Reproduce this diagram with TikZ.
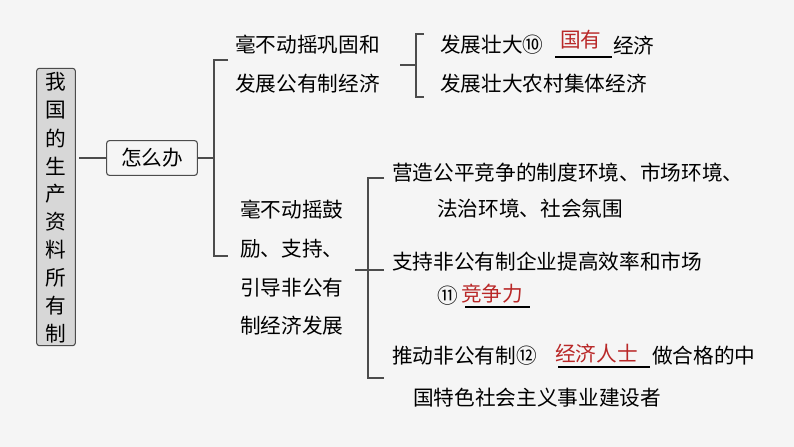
\documentclass[tikz,border=0pt]{standalone}
\usepackage{fontspec}
\setmainfont{Noto Sans CJK SC}
\definecolor{ans}{RGB}{185,40,40}
\definecolor{boxgray}{RGB}{215,215,215}
\tikzset{
    txt/.style={anchor=west, inner sep=0pt, font=\fontsize{15.5}{18}\selectfont},
    line/.style={draw=black!70, line width=0.8pt},
}
\begin{document}
\begin{tikzpicture}[x=0.75pt, y=-0.75pt]
    \fill[white!96!black] (0,0) rectangle (794,447);
    \useasboundingbox (0,0) rectangle (794,447);
    % root
    \node[draw=black!70, fill=boxgray, rounded corners=2pt, line width=0.8pt, minimum width=29pt, minimum height=208pt, inner sep=0pt] (root) at (56,207) {};
    \foreach \c [count=\i] in {我,国,的,生,产,资,料,所,有,制}
        \node[inner sep=0pt, font=\fontsize{15.5}{18}\selectfont] at (56,82+\i*28-28) {\c};
    \node[draw=black!70, rounded corners=2pt, line width=0.8pt, minimum width=68pt, minimum height=26pt, inner sep=0pt, font=\fontsize{15.5}{18}\selectfont] (how) at (152,158) {怎么办};
    \coordinate (r1) at (79,158);
    \draw[line] (r1) -- (how.west);
    \coordinate (b1) at (214,158);
    \draw[line] (how.east) -- (b1);
    \draw[line] (228,60) -- (214,60) -- (214,256) -- (228,256);
    % upper branch
    \node[txt] (pub1) at (235,45) {毫不动摇巩固和};
    \node[txt] (pub2) at (235,84) {发展公有制经济};
    \coordinate (b2) at (416,65);
    \draw[line] (400,65) -- (b2);
    \draw[line] (424,34) -- (416,34) -- (416,97) -- (424,97);
    \node[txt] (st1) at (440,45) {发展壮大⑩};
    \draw[line, draw=black] (555,57) -- (612,57);
    \node[txt, text=ans] (gy) at (560,40) {国有};
    \node[txt] at (613,45) {经济};
    \node[txt] (st2) at (440,84) {发展壮大农村集体经济};
    % lower branch
    \node[txt] (np1) at (240,210) {毫不动摇鼓};
    \node[txt] (np2) at (240,249) {励、支持、};
    \node[txt] (np3) at (240,288) {引导非公有};
    \node[txt] (np4) at (240,326) {制经济发展};
    \coordinate (b3) at (368,270);
    \draw[line] (355,270) -- (384,270);
    \draw[line] (384,178) -- (368,178) -- (368,378) -- (384,378);
    \node[txt] (m1) at (392,173) {营造公平竞争的制度环境、市场环境、};
    \node[txt] (m1b) at (437,209) {法治环境、社会氛围};
    \node[txt] (m2) at (392,262) {支持非公有制企业提高效率和市场};
    \node[txt] (m2b) at (437,296) {⑪};
    \node[txt, text=ans] at (461,294) {竞争力};
    \draw[line, draw=black] (465,307) -- (530,307);
    \node[txt] (m3) at (392,356) {推动非公有制⑫};
    \node[txt, text=ans] at (555,354) {经济人士};
    \draw[line, draw=black] (558,367) -- (650,367);
    \node[txt] at (652,356) {做合格的中};
    \node[txt] (m3b) at (413,398) {国特色社会主义事业建设者};
\end{tikzpicture}
\end{document}
